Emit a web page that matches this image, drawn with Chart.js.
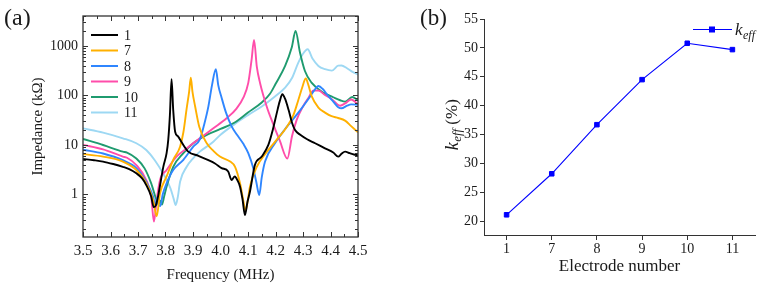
<!DOCTYPE html>
<html><head><meta charset="utf-8">
<script src="https://cdn.jsdelivr.net/npm/chart.js@4.4.0/dist/chart.umd.min.js"></script>
<style>
html,body{margin:0;padding:0;background:#fff;}
#wrap{position:relative;width:766px;height:289px;overflow:hidden;background:#fff;}
#ca{position:absolute;left:0;top:0;}
#cb{position:absolute;left:420px;top:0;}
</style></head><body>
<div id="wrap"><canvas id="ca" width="400" height="289"></canvas><canvas id="cb" width="346" height="289"></canvas></div>
<script>
// ---------- Panel (a) data: impedance (kΩ) vs frequency (MHz) ----------
const seriesLabels = ['1','7','8','9','10','11'];
const f1 = [3.50,3.54,3.573,3.61,3.645,3.67,3.694,3.715,3.73,3.748,3.757,3.765,3.772,3.78,3.792,3.804,3.81,3.816,3.822,3.828,3.835,3.845,3.86,3.883,3.92,3.956,3.98,4.004,4.028,4.04,4.052,4.062,4.071,4.08,4.089,4.098,4.107,4.125,4.15,4.174,4.19,4.205,4.215,4.225,4.235,4.248,4.26,4.271,4.29,4.315,4.344,4.38,4.41,4.428,4.44,4.453,4.47,4.485,4.50];
const z1 = [5.2,4.9,4.6,4.1,3.6,3.2,2.66,2.1,1.54,0.9,0.55,0.6,0.85,1.5,3.6,6.8,12.6,40,213,51,18.5,15,11,7.3,6.0,4.9,4.2,3.4,2.9,1.95,2.3,1.9,1.43,0.8,0.38,0.7,1.13,3.9,5.8,10,20,45,75,106,85,50,28,20,16,13,10.8,8.5,7.0,5.8,6.6,7.3,6.8,6.4,6.2];
const f7 = [3.50,3.573,3.645,3.694,3.73,3.755,3.768,3.78,3.804,3.828,3.853,3.865,3.877,3.886,3.892,3.898,3.908,3.923,3.95,3.975,3.998,4.035,4.053,4.071,4.082,4.091,4.1,4.107,4.132,4.162,4.204,4.241,4.265,4.283,4.298,4.31,4.32,4.331,4.356,4.38,4.404,4.428,4.453,4.475,4.50];
const z7 = [6.5,5.8,4.6,3.1,1.67,0.77,0.36,1.05,2.3,5.0,9.2,18,55,120,230,120,59,23,10.8,7.5,5.8,4.6,3.6,1.67,0.8,0.47,0.8,1.43,3.6,6.5,12.6,23,40,81,150,220,160,98,57,45,38,35,31,24,18];
const f8 = [3.50,3.573,3.645,3.694,3.73,3.755,3.763,3.769,3.775,3.781,3.79,3.804,3.828,3.865,3.901,3.925,3.94,3.956,3.969,3.983,3.992,4.004,4.02,4.04,4.06,4.083,4.101,4.119,4.13,4.141,4.15,4.162,4.198,4.235,4.253,4.283,4.319,4.34,4.356,4.372,4.39,4.41,4.428,4.44,4.46,4.475,4.50];
const z8 = [8.0,6.7,4.9,3.4,1.8,0.9,0.6,0.85,0.6,0.58,1.0,1.67,3.1,5.0,9.2,13,25,60,160,339,160,90,45,24,16,10.5,6.8,3.4,1.8,0.97,2.2,4.6,10.8,21,28,45,84,125,155,135,100,75,58,55,62,66,65];
const f9 = [3.50,3.573,3.645,3.66,3.694,3.73,3.748,3.758,3.768,3.78,3.804,3.84,3.877,3.925,3.974,4.022,4.059,4.083,4.101,4.113,4.122,4.132,4.144,4.168,4.192,4.216,4.243,4.26,4.277,4.3,4.32,4.337,4.356,4.38,4.404,4.435,4.453,4.475,4.50];
const z9 = [10,8.1,5.8,5.5,3.9,1.95,0.9,0.28,0.77,1.95,3.1,5.8,8.5,13.6,21.7,34.5,55,90,180,524,1330,384,177,60,26,12,5.3,15,32,60,90,125,126,102,85,62,69,83,66];
const f10 = [3.50,3.573,3.645,3.66,3.694,3.724,3.748,3.767,3.775,3.78,3.787,3.795,3.804,3.828,3.865,3.901,3.95,4.0,4.05,4.1,4.15,4.18,4.2,4.235,4.259,4.273,4.289,4.307,4.331,4.374,4.41,4.435,4.453,4.479,4.50];
const z10 = [13.2,9.95,7.3,7.0,5.3,3.35,1.67,0.77,0.62,0.75,0.62,0.9,1.43,3.6,6.8,10.8,16,21,28,45,72,108,170,395,930,2020,740,313,182,114,92,80,75,93,80];
const f11 = [3.50,3.573,3.645,3.694,3.73,3.761,3.791,3.818,3.83,3.837,3.845,3.853,3.877,3.901,3.925,3.974,4.0,4.05,4.1,4.15,4.19,4.235,4.26,4.283,4.3,4.317,4.335,4.356,4.38,4.405,4.428,4.44,4.46,4.48,4.50];
const z11 = [21.6,17.7,13.6,10.8,7.9,4.9,2.66,1.32,0.8,0.61,0.9,1.8,3.6,5.4,7.3,11.6,16,26,40,60,88,144,225,462,700,861,550,395,340,318,400,405,355,300,265];
const freqTicks = [3.5,3.6,3.7,3.8,3.9,4.0,4.1,4.2,4.3,4.4,4.5];
const impedanceTicks = [1,10,100,1000];

// ---------- Panel (b) data ----------
const electrodeLabels = ['1','7','8','9','10','11'];
const keffValues = [21.1,28.2,36.7,44.5,50.8,49.7];
const keffTicks = [20,25,30,35,40,45,50,55];

const SERIF = "'Liberation Serif','DejaVu Serif',serif";
Chart.defaults.font.family = SERIF;
Chart.defaults.color = '#1a1a1a';

const freqArrays = [f1,f7,f8,f9,f10,f11];
const zArrays = [z1,z7,z8,z9,z10,z11];
const colors = ['#000000','#FFB000','#2F86FF','#FF4DAA','#1F9B6F','#9DD8F3'];

const dsA = seriesLabels.map((lab,i)=>({
  label: lab,
  data: freqArrays[i].map((f,j)=>({x:f, y:zArrays[i][j]})),
  borderColor: colors[i],
  backgroundColor: colors[i],
  borderWidth: 1.9,
  pointRadius: 0,
  cubicInterpolationMode: 'monotone'
}));

const isPow10 = v => Math.abs(Math.log10(v) - Math.round(Math.log10(v))) < 1e-9;

const decorA = {
  id: 'decorA',
  afterDatasetsDraw(chart){
    const {ctx, chartArea:a, scales:{x,y}} = chart;
    ctx.save();
    ctx.strokeStyle = '#333';
    ctx.lineWidth = 1.3;
    ctx.strokeRect(a.left, a.top, a.right-a.left, a.bottom-a.top);
    ctx.lineWidth = 1;
    ctx.beginPath();
    const xt = x.ticks.map(t=>t.value);
    xt.forEach((v,i)=>{
      const px = Math.round(x.getPixelForValue(v))+0.5;
      ctx.moveTo(px,a.bottom); ctx.lineTo(px,a.bottom-5);
      ctx.moveTo(px,a.top); ctx.lineTo(px,a.top+5);
      if(i<xt.length-1){
        const m = Math.round(x.getPixelForValue((v+xt[i+1])/2))+0.5;
        ctx.moveTo(m,a.bottom); ctx.lineTo(m,a.bottom-3);
        ctx.moveTo(m,a.top); ctx.lineTo(m,a.top+3);
      }
    });
    y.ticks.forEach(t=>{
      const py = Math.round(y.getPixelForValue(t.value))+0.5;
      const L = isPow10(t.value) ? 5 : 3;
      ctx.moveTo(a.left,py); ctx.lineTo(a.left+L,py);
      ctx.moveTo(a.right,py); ctx.lineTo(a.right-L,py);
    });
    ctx.stroke();
    // legend
    chart.data.datasets.forEach((ds,i)=>{
      const yy = 35 + i*15.5;
      ctx.strokeStyle = ds.borderColor;
      ctx.lineWidth = 2;
      ctx.beginPath(); ctx.moveTo(91,yy); ctx.lineTo(118,yy); ctx.stroke();
      ctx.fillStyle = '#1a1a1a';
      ctx.font = '14px ' + SERIF;
      ctx.textBaseline = 'middle';
      ctx.textAlign = 'left';
      ctx.fillText(ds.label, 124, yy+1);
    });
    // panel label
    ctx.font = '24px ' + SERIF;
    ctx.textBaseline = 'alphabetic';
    ctx.fillStyle = '#1a1a1a';
    ctx.fillText('(a)', 4, 25);
    ctx.restore();
  }
};

new Chart(document.getElementById('ca'), {
  type: 'line',
  data: { datasets: dsA },
  options: {
    responsive: false, animation: false, devicePixelRatio: 1,
    layout: { padding: { left: 0, top: 16, right: 42, bottom: 0 } },
    plugins: { legend: { display: false }, tooltip: { enabled: false } },
    scales: {
      x: {
        type: 'linear', min: 3.5, max: 4.5,
        afterBuildTicks: s => { s.ticks = freqTicks.map(v=>({value:v})); },
        ticks: { callback: v => Number(v).toFixed(1), font: { size: 15 }, padding: 5, maxRotation: 0, autoSkip: false },
        grid: { display: false, drawTicks: false },
        border: { display: false },
        title: { display: true, text: 'Frequency (MHz)', font: { size: 15 }, padding: { top: 0, bottom: 5 } },
        afterFit: s => { s.height = 52; }
      },
      y: {
        type: 'logarithmic', min: 0.137, max: 4050,
        afterBuildTicks: s => {
          const t = [];
          [0.1,1,10,100,1000].forEach(d => { for (let k=1;k<=9;k++){ const v = +(k*d).toPrecision(6); if (v>=s.min && v<=s.max) t.push({value:v}); } });
          s.ticks = t;
        },
        ticks: { callback: v => impedanceTicks.includes(v) ? String(v) : '', font: { size: 14 }, padding: 5, autoSkip: false },
        grid: { display: false, drawTicks: false },
        border: { display: false },
        title: { display: true, text: 'Impedance (kΩ)', font: { size: 15 }, padding: { top: 29, bottom: 0 } },
        afterFit: s => { s.width = 83; }
      }
    }
  },
  plugins: [decorA]
});

// ---------- Panel (b) ----------
const decorB = {
  id: 'decorB',
  afterDraw(chart){
    const ctx = chart.ctx;
    const ds = chart.data.datasets[0];
    ctx.save();
    // legend
    ctx.strokeStyle = ds.borderColor; ctx.lineWidth = 1;
    ctx.beginPath(); ctx.moveTo(273,29.5); ctx.lineTo(312,29.5); ctx.stroke();
    ctx.fillStyle = ds.backgroundColor;
    ctx.fillRect(289,26.5,6,6);
    ctx.fillStyle = '#1a1a1a';
    ctx.textBaseline = 'alphabetic'; ctx.textAlign = 'left';
    ctx.font = 'italic 17px ' + SERIF;
    ctx.fillText('k', 315, 35);
    const kw = ctx.measureText('k').width;
    ctx.font = 'italic 12px ' + SERIF;
    ctx.fillText('eff', 315 + kw + 0.5, 39);
    // y title
    ctx.save();
    ctx.translate(33, 125);
    ctx.rotate(-Math.PI/2);
    ctx.textBaseline = 'middle';
    ctx.font = 'italic 18px ' + SERIF; const w1 = ctx.measureText('k').width;
    ctx.font = 'italic 13px ' + SERIF; const w2 = ctx.measureText('eff').width;
    ctx.font = '17px ' + SERIF; const w3 = ctx.measureText(' (%)').width;
    let xs = -(w1+w2+w3)/2;
    ctx.font = 'italic 18px ' + SERIF; ctx.fillText('k', xs, 0); xs += w1 + 0.5;
    ctx.font = 'italic 13px ' + SERIF; ctx.fillText('eff', xs, 5); xs += w2;
    ctx.font = '17px ' + SERIF; ctx.fillText(' (%)', xs, 0);
    ctx.restore();
    // panel label
    ctx.font = '23px ' + SERIF;
    ctx.textBaseline = 'alphabetic';
    ctx.fillText('(b)', 0, 25);
    ctx.restore();
  }
};

new Chart(document.getElementById('cb'), {
  type: 'line',
  data: {
    labels: electrodeLabels,
    datasets: [{
      label: 'keff',
      data: keffValues,
      borderColor: '#0000FF',
      backgroundColor: '#0000FF',
      borderWidth: 1.1,
      pointStyle: 'rect',
      pointRadius: 3.2,
      pointBorderWidth: 1,
      tension: 0
    }]
  },
  options: {
    responsive: false, animation: false, devicePixelRatio: 1,
    layout: { padding: { left: 0, top: 19, right: 11, bottom: 0 } },
    plugins: { legend: { display: false }, tooltip: { enabled: false } },
    scales: {
      x: {
        type: 'category', offset: true,
        ticks: { font: { size: 14 }, padding: 1, maxRotation: 0, autoSkip: false },
        grid: { offset: false, drawOnChartArea: false, drawTicks: true, tickLength: 5, color: '#333', lineWidth: 1 },
        border: { display: true, color: '#333', width: 1 },
        title: { display: true, text: 'Electrode number', font: { size: 17 }, padding: { top: 0, bottom: 12 } },
        afterFit: s => { s.height = 54; }
      },
      y: {
        type: 'linear', min: 17.6, max: 55,
        afterBuildTicks: s => { s.ticks = keffTicks.map(v=>({value:v})); },
        ticks: { font: { size: 14 }, padding: 2, autoSkip: false },
        grid: { drawOnChartArea: false, drawTicks: true, tickLength: 4, color: '#333', lineWidth: 1 },
        border: { display: true, color: '#333', width: 1 },
        afterFit: s => { s.width = 64; }
      }
    }
  },
  plugins: [decorB]
});
</script>
</body></html>
